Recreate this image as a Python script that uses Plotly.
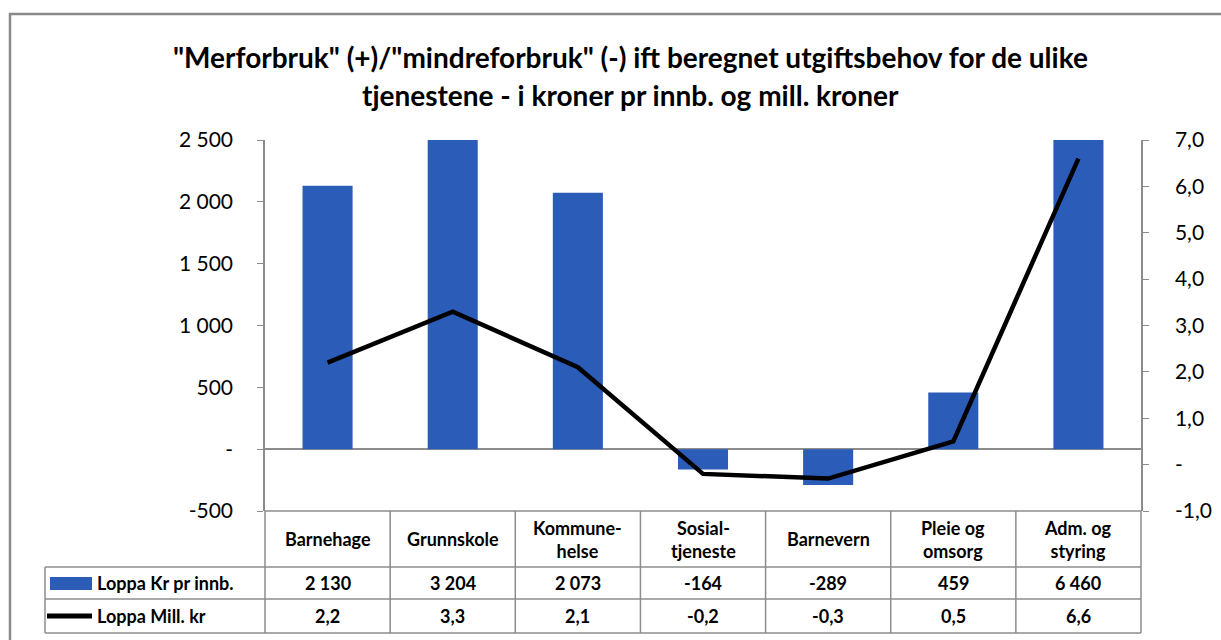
import plotly.graph_objects as go

categories = ["Barnehage", "Grunnskole", "Kommune-helse", "Sosial-tjeneste",
              "Barnevern", "Pleie og omsorg", "Adm. og styring"]
header_labels = ["Barnehage", "Grunnskole", "Kommune-<br>helse", "Sosial-<br>tjeneste",
                 "Barnevern", "Pleie og<br>omsorg", "Adm. og<br>styring"]
kr_pr_innb = [2130, 3204, 2073, -164, -289, 459, 6460]
mill_kr = [2.2, 3.3, 2.1, -0.2, -0.3, 0.5, 6.6]
series_names = ["Loppa Kr pr innb.", "Loppa Mill. kr"]
left_ticks = [-500, 0, 500, 1000, 1500, 2000, 2500]
left_ticktext = ["-500", "-", "500", "1 000", "1 500", "2 000", "2 500"]
right_ticks = [-1, 0, 1, 2, 3, 4, 5, 6, 7]
right_ticktext = ["-1,0", "-", "1,0", "2,0", "3,0", "4,0", "5,0", "6,0", "7,0"]
title_lines = ['"Merforbruk" (+)/"mindreforbruk" (-) ift beregnet utgiftsbehov for de ulike',
               'tjenestene - i kroner pr innb. og mill. kroner']

W, H = 1221, 640
L, R, T, B = 265, 1141, 140, 511
PW, PH = R - L, B - T
FONT = "Lato"
BAR_COLOR = "#2A5CB8"
GRID = "#8C8C8C"


def px(x):
    return (x - L) / PW


def py(y):
    return (B - y) / PH


fig = go.Figure()
fig.add_trace(go.Bar(x=categories, y=kr_pr_innb, name=series_names[0],
                     marker=dict(color=BAR_COLOR, line=dict(width=0)), width=0.4,
                     yaxis="y"))
fig.add_trace(go.Scatter(x=categories, y=mill_kr, name=series_names[1], mode="lines",
                         line=dict(color="black", width=4.5), yaxis="y2"))

fig.update_layout(
    width=W, height=H,
    margin=dict(l=L, r=W - R, t=T, b=H - B, pad=0, autoexpand=False),
    paper_bgcolor="white", plot_bgcolor="white",
    showlegend=False,
    font=dict(family=FONT, color="black"),
    xaxis=dict(type="category", showticklabels=False, showgrid=False, zeroline=False,
               showline=False, ticks="", range=[-0.5, 6.5]),
    yaxis=dict(range=[-500, 2500], tickvals=left_ticks, ticktext=left_ticktext,
               showgrid=False, zeroline=True, zerolinecolor=GRID, zerolinewidth=1.5,
               showline=True, linecolor=GRID, linewidth=1.5, ticks="outside",
               ticklen=6, tickcolor=GRID, tickfont=dict(size=21, family=FONT),
               ticklabelstandoff=20, automargin=False),
    yaxis2=dict(range=[-1, 7], tickvals=right_ticks, ticktext=right_ticktext,
                overlaying="y", side="right", showgrid=False, zeroline=False,
                showline=True, linecolor=GRID, linewidth=1.5, ticks="outside",
                ticklen=6, tickcolor=GRID, tickfont=dict(size=21, family=FONT),
                ticklabelstandoff=22, automargin=False),
)

shapes = []
# outer frame
shapes.append(dict(type="rect", xref="paper", yref="paper", x0=px(10), x1=px(1240),
                   y0=py(660), y1=py(14), line=dict(color="#8A8A8A", width=2.5)))
# table lines
line_style = dict(color=GRID, width=1.5)
for yy, x0 in [(511, L), (567, 45), (599, 45), (633, 45)]:
    shapes.append(dict(type="line", xref="paper", yref="paper", x0=px(x0), x1=px(R),
                       y0=py(yy), y1=py(yy), line=line_style))
shapes.append(dict(type="line", xref="paper", yref="paper", x0=px(45), x1=px(45),
                   y0=py(567), y1=py(633), line=line_style))
for i in range(len(categories) + 1):
    xx = L + PW * i / len(categories)
    shapes.append(dict(type="line", xref="paper", yref="paper", x0=px(xx), x1=px(xx),
                       y0=py(511), y1=py(633), line=line_style))
# legend keys
shapes.append(dict(type="rect", xref="paper", yref="paper", x0=px(50), x1=px(92),
                   y0=py(590), y1=py(577), fillcolor=BAR_COLOR, line=dict(width=0)))
shapes.append(dict(type="line", xref="paper", yref="paper", x0=px(47), x1=px(92),
                   y0=py(616), y1=py(616), line=dict(color="black", width=5)))
fig.update_layout(shapes=shapes)

ann = []
ann.append(dict(text="<b>" + title_lines[0] + "</b>", xref="paper", yref="paper",
                x=px(630), y=py(57), showarrow=False, font=dict(size=28, family=FONT),
                xanchor="center", yanchor="middle"))
ann.append(dict(text="<b>" + title_lines[1] + "</b>", xref="paper", yref="paper",
                x=px(630), y=py(95), showarrow=False, font=dict(size=28, family=FONT),
                xanchor="center", yanchor="middle"))


def fmt_int(v):
    return f"{v:,}".replace(",", " ")


def fmt_dec(v):
    return f"{v:.1f}".replace(".", ",")


TF = 18
for i, cat in enumerate(categories):
    ann.append(dict(text="<b>" + header_labels[i] + "</b>", x=cat, xref="x", yref="paper",
                    y=py(539), showarrow=False, font=dict(size=TF, family=FONT),
                    xanchor="center", yanchor="middle"))
    ann.append(dict(text="<b>" + fmt_int(kr_pr_innb[i]) + "</b>", x=cat, xref="x",
                    yref="paper", y=py(583), showarrow=False,
                    font=dict(size=TF, family=FONT), xanchor="center", yanchor="middle"))
    ann.append(dict(text="<b>" + fmt_dec(mill_kr[i]) + "</b>", x=cat, xref="x",
                    yref="paper", y=py(616), showarrow=False,
                    font=dict(size=TF, family=FONT), xanchor="center", yanchor="middle"))

ann.append(dict(text="<b>" + series_names[0] + "</b>", xref="paper", yref="paper",
                x=px(95), y=py(583), showarrow=False, font=dict(size=TF, family=FONT),
                xanchor="left", yanchor="middle"))
ann.append(dict(text="<b>" + series_names[1] + "</b>", xref="paper", yref="paper",
                x=px(95), y=py(616), showarrow=False, font=dict(size=TF, family=FONT),
                xanchor="left", yanchor="middle"))
fig.update_layout(annotations=ann)

fig.write_html("out.html", config={"displayModeBar": False},
               post_script="document.body.style.margin='0';document.body.style.overflow='hidden';")
